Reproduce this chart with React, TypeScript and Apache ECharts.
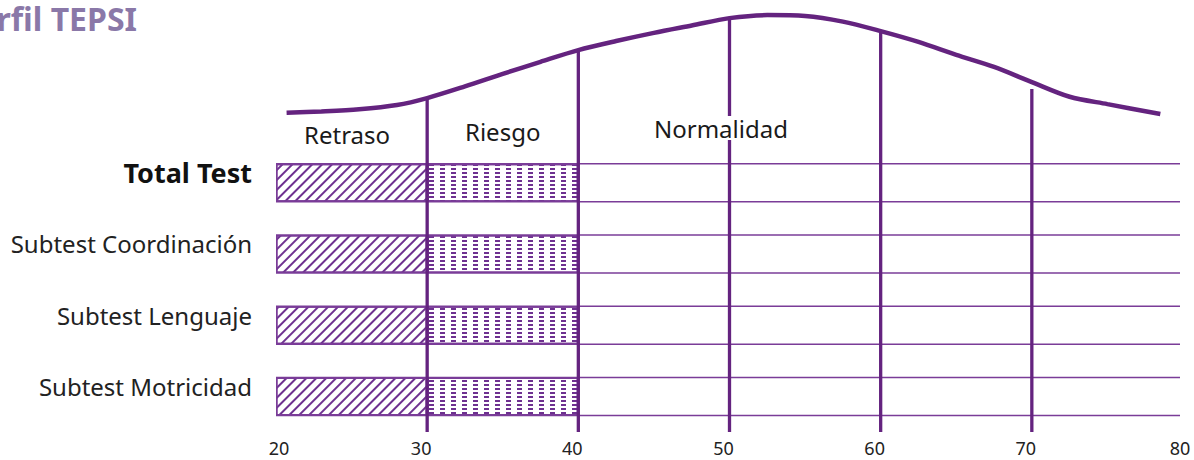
import React, { useEffect, useRef } from "react";
import * as echarts from "echarts";

// ---- data ----
const CATEGORIES = ["Total Test", "Subtest Coordinación", "Subtest Lenguaje", "Subtest Motricidad"];
const BASE_VALUES = [20, 20, 20, 20];
const RETRASO_SPAN = [10, 10, 10, 10];
const RIESGO_SPAN = [10, 10, 10, 10];
const ROW_START = 20;
const ROW_END = 80;
const X_MIN = 20;
const X_MAX = 80;
const X_INTERVAL = 10;

// normal-curve outline (x in score units, y in relative height 0-100)
const CURVE_X = [20.7, 23, 25.5, 28, 30, 32.5, 35, 37.5, 40, 42.5, 45, 47.5, 50, 52.5, 55, 57.5, 60, 62.5, 65, 67.5, 70, 72.5, 75, 78.5];
const CURVE_Y = [73.9, 74.2, 74.7, 75.7, 77.3, 80.0, 82.9, 85.7, 88.4, 90.5, 92.4, 94.1, 95.8, 96.5, 96.3, 95.0, 92.8, 90.3, 87.3, 84.5, 81.0, 77.6, 75.9, 73.6];

// vertical divider lines
const DIVIDER_X = [30, 40, 50, 60, 70];
const DIVIDER_TOP = [77.3, 88.0, 96.0, 92.6, 79.4];

const ZONE_LABELS = ["Retraso", "Riesgo", "Normalidad"];

const PURPLE = "#64237f";
const LINE_PURPLE = "#7a3c98";
const FONT = "'Noto Sans', 'Open Sans', sans-serif";

export default function App() {
  const ref = useRef<HTMLDivElement>(null);

  useEffect(() => {
    if (!ref.current) return;
    const chart = echarts.init(ref.current, undefined, { renderer: "svg" });
    const barW = 38;

    const option: any = {
      animation: false,
      backgroundColor: "#ffffff",
      textStyle: { fontFamily: FONT },
      grid: [
        { left: 276, right: 11, top: 147, bottom: 28 },
        { left: 276, right: 11, top: 0, bottom: 28 },
      ],
      xAxis: [
        {
          gridIndex: 0,
          type: "value",
          min: X_MIN,
          max: X_MAX,
          interval: X_INTERVAL,
          axisLine: { show: false },
          axisTick: { show: false },
          splitLine: { show: false },
          axisLabel: {
            margin: 7,
            fontSize: 18,
            color: "#222",
            fontFamily: FONT,
            formatter: (v: number) =>
              v === X_MIN ? `{s|${v}}` : v === X_MAX ? `{e|${v}}` : `{m|${v}}`,
            rich: {
              s: { fontSize: 18, color: "#222", fontFamily: FONT, padding: [0, 0, 0, 6] },
              m: { fontSize: 18, color: "#222", fontFamily: FONT, padding: [0, 12, 0, 0] },
              e: { fontSize: 18, color: "#222", fontFamily: FONT, padding: [0, 6, 0, 0] },
            },
          },
        },
        {
          gridIndex: 1,
          type: "value",
          min: X_MIN,
          max: X_MAX,
          show: false,
        },
      ],
      yAxis: [
        {
          gridIndex: 0,
          type: "category",
          inverse: true,
          data: CATEGORIES,
          axisLine: { show: false },
          axisTick: { show: false },
          splitLine: { show: false },
          axisLabel: {
            margin: 24,
            fontFamily: FONT,
            padding: [0, 0, 20, 0],
            formatter: (v: string) => (v === CATEGORIES[0] ? `{b|${v}}` : `{n|${v}}`),
            rich: {
              b: { fontSize: 27, fontWeight: "bold", color: "#111", fontFamily: FONT },
              n: { fontSize: 24, color: "#222", fontFamily: FONT },
            },
          },
        },
        {
          gridIndex: 1,
          type: "value",
          min: 0,
          max: 100,
          show: false,
        },
      ],
      graphic: [
        {
          type: "text",
          z: 100,
          style: {
            x: 137,
            y: 18,
            align: "right",
            verticalAlign: "middle",
            text: "Perfil TEPSI",
            font: `bold 32px ${FONT}`,
            fill: "#8a78a8",
          },
        },
        {
          type: "text",
          z: 100,
          style: { x: 304, y: 134, verticalAlign: "middle", text: ZONE_LABELS[0], font: `24px ${FONT}`, fill: "#1a1a1a" },
        },
        {
          type: "text",
          z: 100,
          style: { x: 465, y: 131, verticalAlign: "middle", text: ZONE_LABELS[1], font: `24px ${FONT}`, fill: "#1a1a1a" },
        },
        {
          type: "text",
          z: 100,
          style: {
            x: 650,
            y: 128,
            verticalAlign: "middle",
            text: ZONE_LABELS[2],
            font: `24px ${FONT}`,
            fill: "#1a1a1a",
            backgroundColor: "#ffffff",
            padding: [0, 4, 0, 4],
          },
        },
      ],
      series: [
        {
          type: "bar",
          xAxisIndex: 0,
          yAxisIndex: 0,
          stack: "row",
          data: BASE_VALUES,
          barWidth: barW,
          itemStyle: { color: "rgba(0,0,0,0)" },
          silent: true,
          clip: true,
        },
        {
          type: "bar",
          xAxisIndex: 0,
          yAxisIndex: 0,
          stack: "row",
          data: RETRASO_SPAN,
          barWidth: barW,
          itemStyle: {
            color: "#ffffff",
            borderColor: LINE_PURPLE,
            borderWidth: 1.5,
            decal: {
              symbol: "rect",
              symbolSize: 1,
              color: "#6e3190",
              backgroundColor: null,
              dashArrayX: [1, 0],
              dashArrayY: [1.2, 4.5],
              rotation: -Math.PI / 4,
            },
          },
        },
        {
          type: "bar",
          xAxisIndex: 0,
          yAxisIndex: 0,
          stack: "row",
          data: RIESGO_SPAN,
          barWidth: barW,
          itemStyle: {
            color: "#ffffff",
            borderColor: LINE_PURPLE,
            borderWidth: 1.5,
            decal: {
              symbol: "rect",
              symbolSize: 1,
              color: "#6e3190",
              backgroundColor: null,
              dashArrayX: [5, 5.8],
              dashArrayY: [1.4, 1.7],
              rotation: 0,
            },
          },
        },
        {
          type: "custom",
          xAxisIndex: 0,
          yAxisIndex: 0,
          z: 3,
          data: CATEGORIES.map((_, i) => [ROW_START, ROW_END, i]),
          encode: { x: [0, 1], y: 2 },
          renderItem: (params: any, api: any) => {
            const a = api.coord([api.value(0), api.value(2)]);
            const b = api.coord([api.value(1), api.value(2)]);
            const h = barW / 2;
            const st = { stroke: LINE_PURPLE, lineWidth: 1.5 };
            return {
              type: "group",
              children: [
                { type: "line", shape: { x1: a[0], y1: a[1] - h, x2: b[0] - 3, y2: b[1] - h }, style: st },
                { type: "line", shape: { x1: a[0], y1: a[1] + h, x2: b[0] - 3, y2: b[1] + h }, style: st },
              ],
            };
          },
        },
        {
          type: "line",
          xAxisIndex: 1,
          yAxisIndex: 1,
          data: CURVE_X.map((x, i) => [x, CURVE_Y[i]]),
          smooth: 0.3,
          symbol: "none",
          z: 6,
          lineStyle: { color: PURPLE, width: 4.5 },
        },
        {
          type: "custom",
          xAxisIndex: 1,
          yAxisIndex: 1,
          z: 5,
          data: DIVIDER_X.map((x, i) => [x, DIVIDER_TOP[i]]),
          renderItem: (params: any, api: any) => {
            const p0 = api.coord([api.value(0), 0]);
            const p1 = api.coord([api.value(0), api.value(1)]);
            return {
              type: "line",
              shape: { x1: p0[0], y1: p0[1], x2: p1[0], y2: p1[1] },
              style: { stroke: PURPLE, lineWidth: 3.3 },
            };
          },
        },
      ],
    };

    chart.setOption(option);
    return () => chart.dispose();
  }, []);

  return (
    <div
      ref={ref}
      style={{ position: "fixed", left: 0, top: 0, width: 1194, height: 460, background: "#fff" }}
    />
  );
}
